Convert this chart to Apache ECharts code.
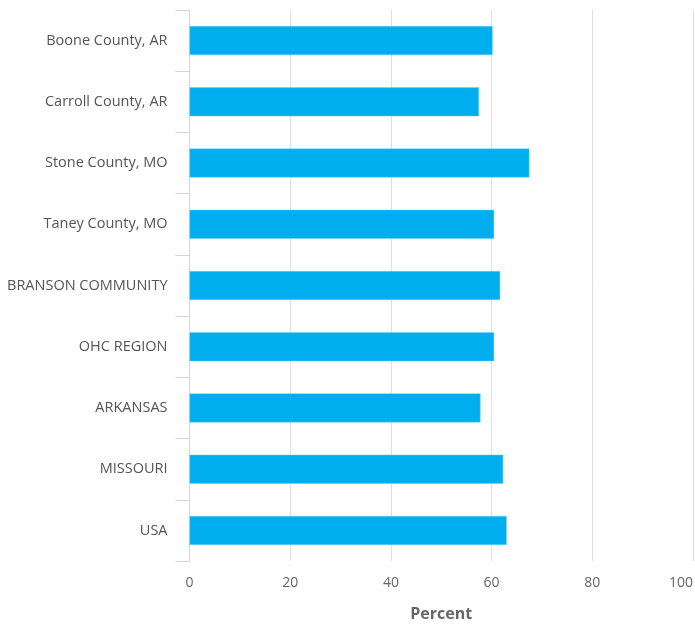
<!DOCTYPE html>
<html><head><meta charset="utf-8">
<script src="https://cdn.jsdelivr.net/npm/echarts@6/dist/echarts.min.js"></script>
<style>html,body{margin:0;padding:0;background:#fff}#c{width:695px;height:625px}</style>
</head><body><div id="c"></div>
<script>
const categories = ["Boone County, AR","Carroll County, AR","Stone County, MO","Taney County, MO","BRANSON COMMUNITY","OHC REGION","ARKANSAS","MISSOURI","USA"];
const values = [60.2, 57.5, 67.5, 60.5, 61.7, 60.5, 57.8, 62.3, 63.0];
const xTicks = [0, 20, 40, 60, 80, 100];
const xTitle = "Percent";

const chart = echarts.init(document.getElementById('c'));
const font = '"Open Sans", "Noto Sans", sans-serif';
chart.setOption({
  animation: false,
  grid: {left: 189.5, right: 2, top: 10, bottom: 64, containLabel: false, outerBoundsMode: 'none'},
  xAxis: {
    type: 'value', min: xTicks[0], max: xTicks[xTicks.length-1], interval: 20,
    name: xTitle, nameLocation: 'middle', nameGap: 45,
    nameTextStyle: {color: '#666', fontSize: 16, fontWeight: 'bold', fontFamily: font},
    axisLine: {show: false}, axisTick: {show: false},
    axisLabel: {color: '#666', fontSize: 14, fontFamily: font, margin: 15, alignMaxLabel: 'right'},
    splitLine: {show: true, lineStyle: {color: '#e0e0e0', width: 1}}
  },
  yAxis: {
    type: 'category', data: categories, inverse: true,
    axisLine: {show: true, lineStyle: {color: '#ccd6eb', width: 1}},
    axisTick: {show: true, length: 14, lineStyle: {color: '#ccd6eb', width: 1}},
    axisLabel: {color: '#555', fontSize: 14.5, fontFamily: font, margin: 22},
    splitLine: {show: false}
  },
  series: [{
    type: 'bar', data: values, barWidth: 29,
    itemStyle: {color: '#00aeef', borderColor: '#6fd0f5', borderWidth: 0.5}
  }]
});
</script></body></html>
